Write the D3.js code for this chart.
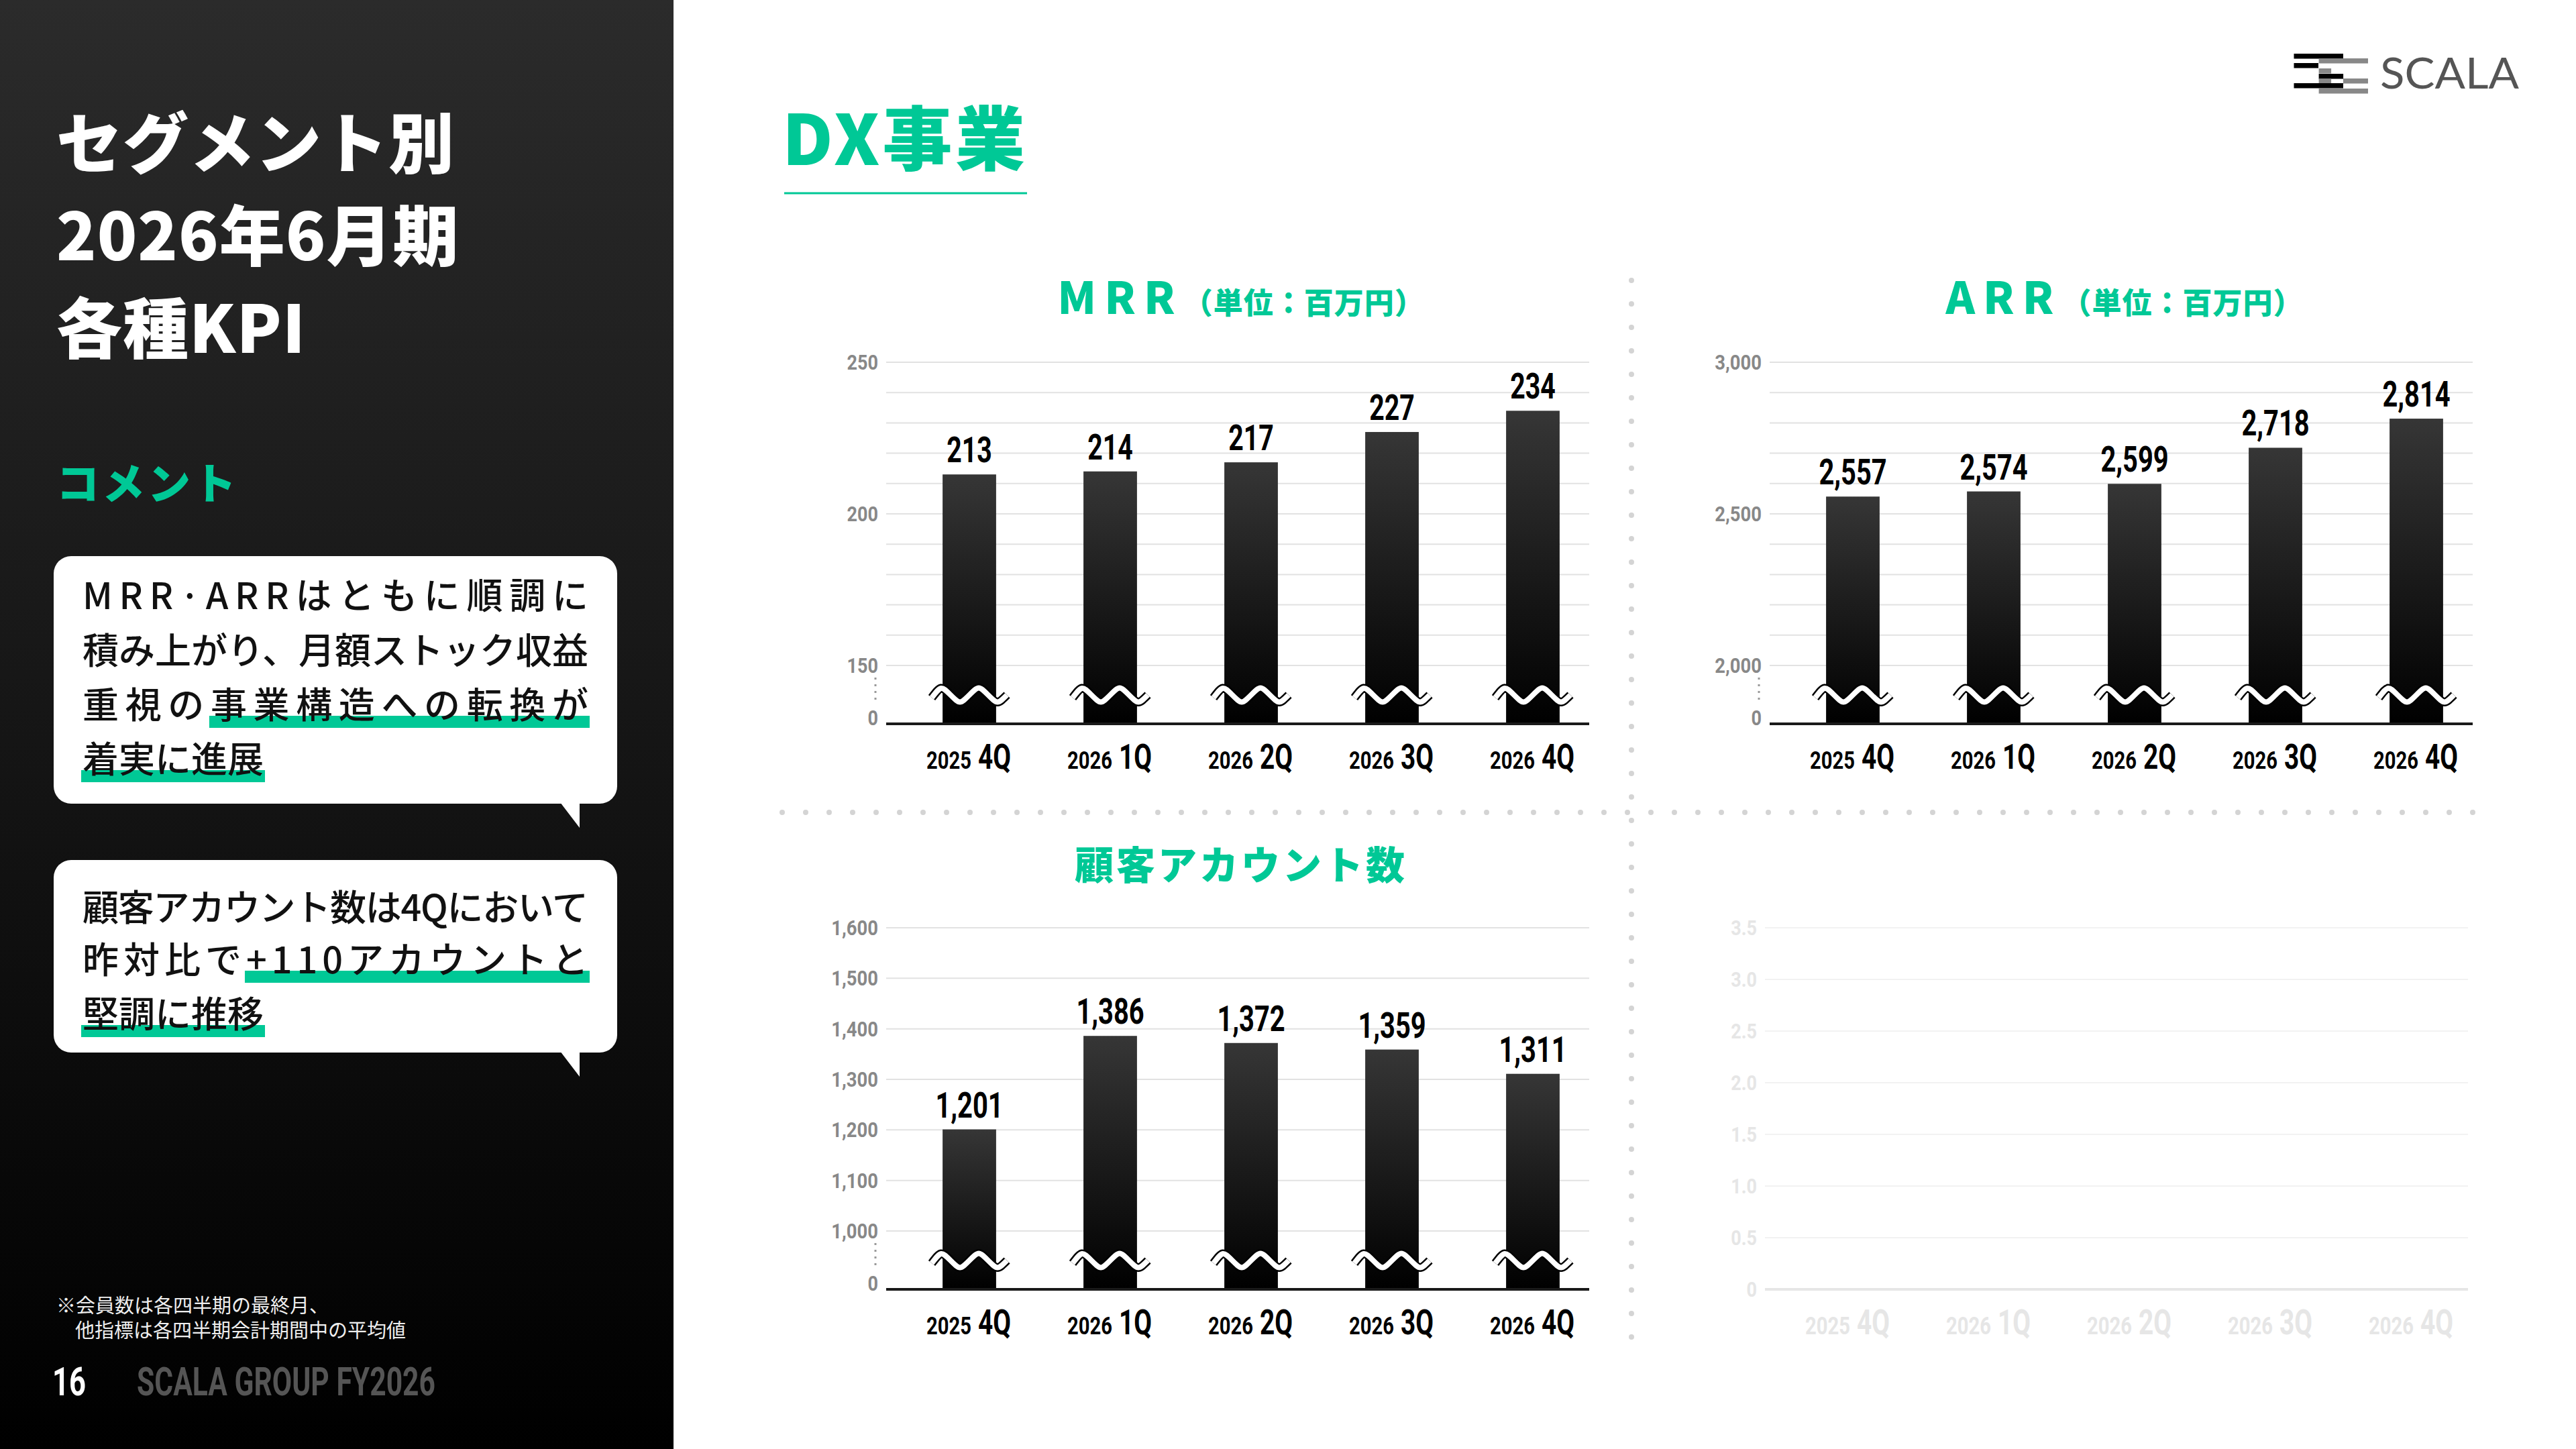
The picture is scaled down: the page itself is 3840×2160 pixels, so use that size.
<!DOCTYPE html>
<html><head><meta charset="utf-8">
<script src="https://cdn.jsdelivr.net/npm/d3@7"></script>
<style>body{margin:0;background:#fff}svg{display:block}</style>
</head><body>
<svg id="c" width="3840" height="2160"></svg>
<script>
const quarters = ["2025|4Q","2026|1Q","2026|2Q","2026|3Q","2026|4Q"];
const mrrValues = [213,214,217,227,234];
const arrValues = [2557,2574,2599,2718,2814];
const accountValues = [1201,1386,1372,1359,1311];
const mrrTicks = [150,200,250];
const mrrGrid = [150,160,170,180,190,200,210,220,230,240,250];
const arrTicks = [2000,2500,3000];
const arrGrid = [2000,2100,2200,2300,2400,2500,2600,2700,2800,2900,3000];
const accTicks = [1000,1100,1200,1300,1400,1500,1600];
const emptyTicks = [0,0.5,1,1.5,2,2.5,3,3.5];

const GREEN="#00c896";
const JP="'Noto Sans CJK JP','Noto Sans',sans-serif";
const COND="Roboto,'DejaVu Sans',sans-serif";
// condensed width: digits d, punctuation p
const condLen=(s,dw)=>{let w=0;for(const ch of s){w+=(/[0-9A-Z]/.test(ch)?dw:dw*0.5);}return w;};
const svg=d3.select("#c");
const defs=svg.append("defs");
const pg=defs.append("linearGradient").attr("id","panel").attr("x1",0).attr("y1",0).attr("x2",0).attr("y2",1);
pg.append("stop").attr("offset",0).attr("stop-color","#2b2b2b");
pg.append("stop").attr("offset",1).attr("stop-color","#000");
const bg=defs.append("linearGradient").attr("id","bar").attr("x1",0).attr("y1",0).attr("x2",0).attr("y2",1);
bg.append("stop").attr("offset",0).attr("stop-color","#363636");
bg.append("stop").attr("offset",1).attr("stop-color","#000");

// ---- Left panel
svg.append("rect").attr("width",1004).attr("height",2160).attr("fill","url(#panel)");
["セグメント別","2026年6月期","各種KPI"].forEach((t,i)=>{
  svg.append("text").attr("x",84).attr("y",250+i*138).text(t)
   .attr("font-family",JP).attr("font-weight",900).attr("font-size",98).attr("fill","#fff").attr("letter-spacing",1);
});
svg.append("text").attr("x",84).attr("y",744).text("コメント").attr("font-family",JP).attr("font-weight",900)
  .attr("font-size",64).attr("fill",GREEN).attr("letter-spacing",4);

const ulLayer=svg.append("g");
const txtLayer=svg.append("g");
function bubble(y0,y1,lines){
  ulLayer.append("rect").attr("x",80).attr("y",y0).attr("width",840).attr("height",y1-y0).attr("rx",26).attr("fill","#fff");
  ulLayer.append("path").attr("d",`M835,${y1-2}L864,${y1-2}L864,${y1+36}Z`).attr("fill","#fff");
  lines.forEach(l=>{
    const t=txtLayer.append("text").attr("x",123).attr("y",l.y).attr("font-family",JP).attr("font-weight",500)
      .attr("font-size",54).attr("fill","#111").text((l.pre||"")+(l.ul||""));
    if(l.full) t.attr("textLength",754).attr("lengthAdjust","spacing");
    if(l.ul){
      const n=(l.pre||"").length, node=t.node();
      const sx=n? node.getStartPositionOfChar(n).x : 123;
      const ex=node.getEndPositionOfChar(n+l.ul.length-1).x;
      ulLayer.append("rect").attr("x",sx-2).attr("y",l.y-4).attr("width",ex-sx+4).attr("height",18).attr("fill",GREEN);
    }
  });
}
bubble(829,1198,[
  {y:908,pre:"MRR·ARRはともに順調に",full:true},
  {y:990,pre:"積み上がり、月額ストック収益",full:true},
  {y:1071,pre:"重視の",ul:"事業構造への転換が",full:true},
  {y:1152,pre:"",ul:"着実に進展"}
]);
bubble(1282,1569,[
  {y:1373,pre:"顧客アカウント数は4Qにおいて",full:true},
  {y:1451,pre:"昨対比で",ul:"+110アカウントと",full:true},
  {y:1532,pre:"",ul:"堅調に推移"}
]);
svg.append("text").attr("x",84).attr("y",1957).text("※会員数は各四半期の最終月、")
  .attr("font-family",JP).attr("font-size",29).attr("fill","#eee");
svg.append("text").attr("x",112).attr("y",1994).text("他指標は各四半期会計期間中の平均値")
  .attr("font-family",JP).attr("font-size",29).attr("fill","#eee");
svg.append("text").attr("x",78).attr("y",2080).text("16").attr("font-family",COND).attr("font-weight",700)
  .attr("font-size",60).attr("fill","#fff").attr("textLength",50).attr("lengthAdjust","spacingAndGlyphs");
svg.append("text").attr("x",204).attr("y",2080).text("SCALA GROUP  FY2026").attr("font-family",COND).attr("font-weight",700)
  .attr("font-size",60).attr("fill","#555").attr("textLength",445).attr("lengthAdjust","spacingAndGlyphs");

// ---- Right header
svg.append("text").attr("x",1166).attr("y",246).text("DX事業").attr("font-family",JP).attr("font-weight",900)
  .attr("font-size",104).attr("fill",GREEN).attr("textLength",362).attr("lengthAdjust","spacing");
svg.append("line").attr("x1",1169).attr("x2",1531).attr("y1",288).attr("y2",288).attr("stroke",GREEN).attr("stroke-width",3);
// logo
const logo=svg.append("g");
[[3419.5,80,73.5,"#000"],[3456.6,87,73.4,"#888"],[3419.5,94,36.5,"#000"],[3456.6,102,18.5,"#888"],
 [3456.6,110,36.5,"#000"],[3456.6,117,18.5,"#888"],[3493,117,37,"#888"],[3419.5,124,73.5,"#000"],[3456.6,132,73.4,"#888"]]
 .forEach(r=>logo.append("rect").attr("x",r[0]).attr("y",r[1]).attr("width",r[2]).attr("height",7.5).attr("fill",r[3]));
logo.append("text").attr("x",3548).attr("y",132).text("SCALA").attr("font-family","Lato,'Open Sans',sans-serif")
  .attr("font-size",63).attr("fill","#555").attr("textLength",207).attr("lengthAdjust","spacingAndGlyphs");

// dotted separators
svg.append("line").attr("x1",2432).attr("x2",2432).attr("y1",418).attr("y2",2006)
  .attr("stroke","#d4d4d4").attr("stroke-width",8).attr("stroke-linecap","round").attr("stroke-dasharray","0,35");
svg.append("line").attr("x1",1166).attr("x2",3705).attr("y1",1211).attr("y2",1211)
  .attr("stroke","#d4d4d4").attr("stroke-width",8).attr("stroke-linecap","round").attr("stroke-dasharray","0,35");

// ---- Chart builder
function chart(o){
  const g=svg.append("g").attr("transform",`translate(${o.dx},${o.dy})`);
  const x=d3.scaleBand().domain(quarters).range([1340,2390]).paddingInner(0.62).paddingOuter(0.31);
  const y=d3.scaleLinear().domain(o.domain).range([o.yLo,540]);
  const base=o.base;
  const faded=!!o.faded;
  const tickCol=faded?"#e6e6e6":"#888";
  if(o.title){
    const t=g.append("text").attr("x",1850).attr("y",o.titleY).attr("text-anchor","middle")
      .attr("font-family",JP).attr("font-weight",900).attr("fill",GREEN);
    t.append("tspan").text(o.title).attr("font-size",o.sub?66:58).attr("letter-spacing",o.sub?12:4);
    if(o.sub) t.append("tspan").text(o.sub).attr("font-size",44).attr("letter-spacing",1);
  }
  g.selectAll(".gr").data(o.grid).join("line").attr("x1",1321).attr("x2",2369)
    .attr("y1",d=>y(d)).attr("y2",d=>y(d)).attr("stroke",faded?"#f2f2f2":"#e2e2e2").attr("stroke-width",2);
  const fmt=o.fmt||d3.format(",");
  g.selectAll(".tl").data(o.ticks).join("text").attr("x",1309).attr("y",d=>y(d)+11).attr("text-anchor","end")
    .text(fmt).attr("textLength",d=>condLen(fmt(d),15.5)).attr("lengthAdjust","spacingAndGlyphs")
    .attr("font-family",COND).attr("font-weight",700).attr("font-size",32).attr("fill",tickCol);
  if(o.broken){
    g.append("text").attr("x",1309).attr("y",base+2).attr("text-anchor","end").text("0")
      .attr("textLength",15.5).attr("lengthAdjust","spacingAndGlyphs")
      .attr("font-family",COND).attr("font-weight",700).attr("font-size",32).attr("fill","#888");
    g.append("line").attr("x1",1305).attr("x2",1305).attr("y1",y(o.domain[0])+18).attr("y2",base-35)
      .attr("stroke","#999").attr("stroke-width",3).attr("stroke-dasharray","3,7");
  }
  if(o.values){
    g.selectAll(".b").data(o.values).join("rect").attr("x",(d,i)=>x(quarters[i])).attr("width",x.bandwidth())
      .attr("y",d=>y(d)).attr("height",d=>base-y(d)).attr("fill","url(#bar)");
    g.selectAll(".v").data(o.values).join("text").attr("x",(d,i)=>x(quarters[i])+x.bandwidth()/2)
      .attr("y",d=>y(d)-18).attr("text-anchor","middle").text(d=>d3.format(",")(d))
      .attr("textLength",d=>condLen(d3.format(",")(d),22.5)).attr("lengthAdjust","spacingAndGlyphs")
      .attr("font-family",COND).attr("font-weight",700).attr("font-size",54).attr("fill","#000");
    const bw=112, amp=7;
    const wave=cx=>{const x0=cx-bw/2;let p=`M${x0},${o.brk+4}`;
      for(let k=0;k<2;k++){const s=x0+k*bw/2;p+=` C${s+bw/8},${o.brk-amp*2} ${s+bw/8},${o.brk-amp*2} ${s+bw/4},${o.brk} S${s+bw*3/8},${o.brk+amp*2} ${s+bw/2},${o.brk}`;}
      return p;};
    quarters.forEach(q=>{
      const cx=x(q)+x.bandwidth()/2;
      g.append("path").attr("d",wave(cx)).attr("fill","none").attr("stroke","#000").attr("stroke-width",13);
      g.append("path").attr("d",wave(cx)).attr("fill","none").attr("stroke","#fff").attr("stroke-width",8);
    });
  }
  g.append("line").attr("x1",1321).attr("x2",2369).attr("y1",base).attr("y2",base)
    .attr("stroke",faded?"#e6e6e6":"#1a1a1a").attr("stroke-width",4);
  quarters.forEach(q=>{
    const [yr,qq]=q.split("|");
    const cx=x(q)+x.bandwidth()/2;
    const col=faded?"#e6e6e6":"#000";
    g.append("text").attr("x",cx-64).attr("y",base+67).text(yr).attr("textLength",67).attr("lengthAdjust","spacingAndGlyphs")
      .attr("font-family",COND).attr("font-weight",700).attr("font-size",36).attr("fill",col);
    g.append("text").attr("x",cx+13).attr("y",base+67).text(qq).attr("textLength",49).attr("lengthAdjust","spacingAndGlyphs")
      .attr("font-family",COND).attr("font-weight",700).attr("font-size",52).attr("fill",col);
  });
}
chart({dx:0,dy:0,domain:[150,250],yLo:992,base:1079,brk:1036,grid:mrrGrid,ticks:mrrTicks,values:mrrValues,
  broken:true,title:"MRR",sub:"（単位：百万円）",titleY:468});
chart({dx:1317,dy:0,domain:[2000,3000],yLo:992,base:1079,brk:1036,grid:arrGrid,ticks:arrTicks,values:arrValues,
  broken:true,title:"ARR",sub:"（単位：百万円）",titleY:468});
chart({dx:0,dy:843,domain:[1000,1600],yLo:992,base:1079,brk:1036,grid:accTicks,ticks:accTicks,values:accountValues,
  broken:true,title:"顧客アカウント数",titleY:468});
chart({dx:1310,dy:843,domain:[0,3.5],yLo:1079,base:1079,grid:emptyTicks,ticks:emptyTicks,faded:true,
  fmt:d=>d===0?"0":d3.format(".1f")(d)});
</script>
</body></html>
